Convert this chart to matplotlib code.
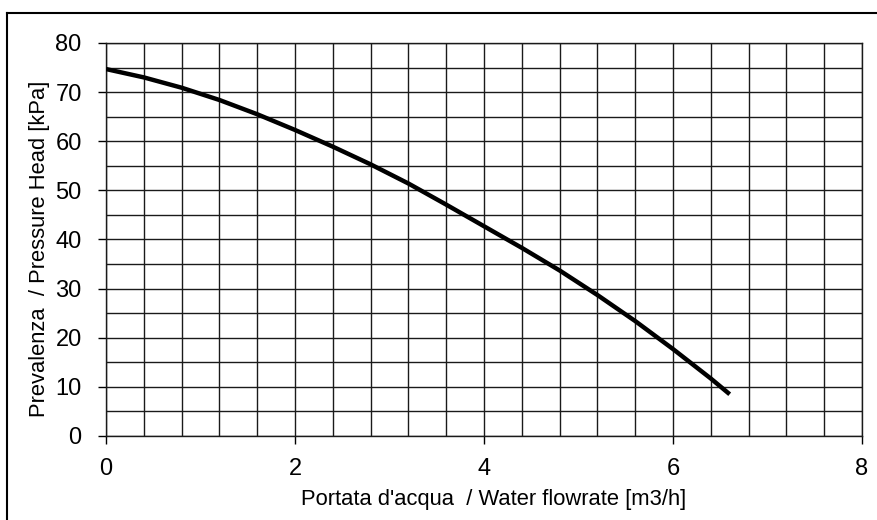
import numpy as np
import matplotlib.pyplot as plt
from matplotlib.lines import Line2D

# curva prevalenza / portata
portata = [0.0, 0.4, 0.8, 1.2, 1.6, 2.0, 2.4, 2.8, 3.2, 3.6, 4.0, 4.4, 4.8, 5.2, 5.6, 6.0, 6.4, 6.6]
prevalenza = [74.7, 73.0, 70.9, 68.4, 65.5, 62.3, 58.9, 55.3, 51.4, 47.1, 42.7, 38.3, 33.7, 28.7, 23.4, 17.7, 11.7, 8.5]

x_major = [0, 2, 4, 6, 8]
y_major = [0, 10, 20, 30, 40, 50, 60, 70, 80]

plt.rcParams['font.family'] = ['Liberation Sans', 'DejaVu Sans']

fig = plt.figure(figsize=(8.78, 5.2), dpi=100)
ax = fig.add_axes([106 / 878, 1 - 436 / 520, 756 / 878, 393 / 520])

ax.plot(portata, prevalenza, color='black', linewidth=3.2,
        solid_capstyle='butt', solid_joinstyle='round', zorder=3)

ax.set_xlim(0, 8)
ax.set_ylim(0, 80)
ax.set_xticks(x_major)
ax.set_yticks(y_major)
ax.set_xticks(np.arange(0, 8.01, 0.4), minor=True)
ax.set_yticks(np.arange(0, 80.01, 5), minor=True)
ax.grid(which='both', color='#1a1a1a', linewidth=1.0)
ax.tick_params(which='major', direction='out', length=6, width=1, color='black', labelsize=17)
ax.tick_params(axis='y', pad=11.5)
ax.tick_params(axis='x', pad=10)
ax.tick_params(which='minor', length=0)
for s in ax.spines.values():
    s.set_linewidth(1.0)
    s.set_color('#1a1a1a')

ax.set_xlabel("Portata d'acqua  / Water flowrate [m3/h]", fontsize=15.8, labelpad=6)
ax.set_ylabel("Prevalenza  / Pressure Head [kPa]", fontsize=15.8, labelpad=4)
ax.xaxis.label.set_x(0.513)
ax.yaxis.label.set_y(0.477)

# cornice esterna
fig.add_artist(Line2D([7.5 / 878, 7.5 / 878], [0, 1 - 12.5 / 520], color='black', linewidth=1.5))
fig.add_artist(Line2D([7.5 / 878, 1], [1 - 12.5 / 520, 1 - 12.5 / 520], color='black', linewidth=1.5))

fig.savefig('out.png', dpi=100)
